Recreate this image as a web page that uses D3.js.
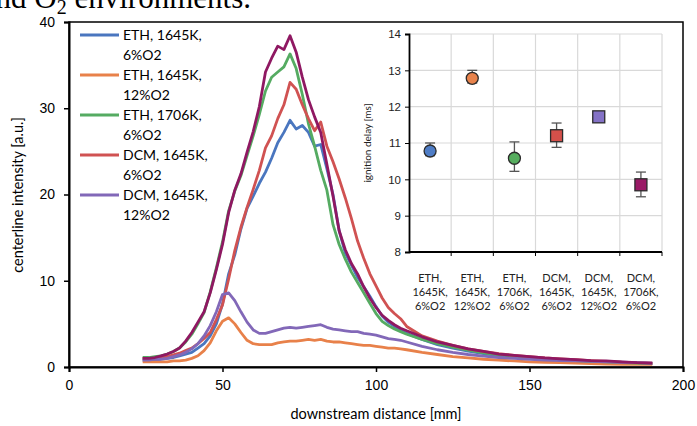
<!DOCTYPE html>
<html>
<head>
<meta charset="utf-8">
<script src="https://cdn.jsdelivr.net/npm/d3@7"></script>
<style>
  body { margin: 0; background: #fff; }
  svg { display: block; font-family: Lato, "Open Sans", sans-serif; }
</style>
</head>
<body>
<svg id="chart" width="697" height="426"></svg>
<script>
// downstream distance [mm]
const distance = [24, 26, 28, 30, 32, 34, 36, 38, 40, 42,
    44, 46, 48, 50, 52, 54, 56, 58, 60, 62,
    64, 66, 68, 70, 72, 74, 76, 78, 80, 82,
    84, 86, 88, 90, 92, 94, 96, 98, 100, 102,
    104, 106, 108, 110,
    115, 120, 125, 130, 135, 140, 145, 150, 155, 160, 165, 170, 175, 180, 185, 190];

const eth1645_6 = [0.8, 0.8, 0.8, 0.9, 1.0, 1.1, 1.3, 1.5, 1.7, 2.2,
    2.7, 3.6, 5.0, 7.3, 10.8, 13.0, 16.0, 18.4, 19.8, 21.3,
    22.6, 24.2, 26.0, 27.2, 28.6, 27.6, 28.0, 27.2, 25.6, 25.8,
    23.0, 20.0, 15.8, 13.2, 11.8, 10.4, 9.3, 8.2, 7.0, 5.9,
    5.2, 4.7, 4.3, 3.9,
    3.2, 2.6, 2.2, 1.85, 1.55, 1.3, 1.15, 1.0, 0.9, 0.8, 0.7, 0.6, 0.55, 0.5, 0.45, 0.4];

const eth1645_12 = [0.6, 0.6, 0.6, 0.6, 0.6, 0.7, 0.7, 0.8, 1.0, 1.3,
    1.9, 2.8, 4.2, 5.3, 5.7, 5.0, 4.0, 3.1, 2.7, 2.6,
    2.6, 2.6, 2.8, 2.9, 3.0, 3.0, 3.1, 3.2, 3.1, 3.2,
    3.0, 2.9, 2.9, 2.8, 2.7, 2.6, 2.5, 2.5, 2.4, 2.3,
    2.2, 2.2, 2.1, 2.0,
    1.7, 1.45, 1.2, 1.05, 0.9, 0.8, 0.7, 0.6, 0.55, 0.5, 0.45, 0.4, 0.35, 0.3, 0.3, 0.3];

const eth1706_6 = [1.1, 1.1, 1.2, 1.3, 1.5, 1.8, 2.2, 2.9, 3.8, 5.0,
    6.3, 8.7, 11.5, 14.5, 18.1, 20.4, 22.2, 24.5, 26.8, 29.3,
    32.0, 33.6, 34.2, 34.8, 36.3, 34.6, 31.6, 28.2, 25.6, 22.8,
    20.5, 16.5, 14.2, 12.5, 11.0, 9.8, 8.6, 7.4, 6.2, 5.3,
    4.8, 4.4, 4.1, 3.8,
    3.2, 2.7, 2.3, 1.95, 1.65, 1.4, 1.25, 1.1, 0.95, 0.85, 0.75, 0.65, 0.6, 0.5, 0.45, 0.4];

const dcm1645_6 = [1.0, 1.0, 1.0, 1.1, 1.2, 1.4, 1.6, 1.9, 2.2, 2.7,
    3.3, 4.0, 5.5, 7.2, 10.2, 13.5, 16.2, 18.5, 20.6, 22.8,
    25.4, 26.8, 28.8, 30.4, 33.0, 32.2, 30.4, 28.8, 27.4, 28.4,
    25.6, 23.8, 21.8, 19.6, 17.2, 14.6, 12.6, 10.8, 9.4, 8.0,
    6.9, 6.2, 5.6, 4.7,
    3.6, 3.0, 2.5, 2.1, 1.8, 1.55, 1.35, 1.2, 1.05, 0.95, 0.85, 0.75, 0.65, 0.55, 0.5, 0.45];

const dcm1645_12 = [0.8, 0.8, 0.9, 0.9, 1.0, 1.2, 1.4, 1.7, 2.1, 2.7,
    3.6, 4.8, 6.4, 8.4, 8.6, 7.7, 6.4, 5.2, 4.3, 3.9,
    3.9, 4.1, 4.3, 4.5, 4.6, 4.5, 4.6, 4.7, 4.8, 4.9,
    4.6, 4.4, 4.3, 4.2, 4.1, 4.1, 3.9, 3.8, 3.7, 3.5,
    3.3, 3.2, 3.1, 2.9,
    2.4, 2.0, 1.7, 1.45, 1.25, 1.1, 1.0, 0.9, 0.8, 0.75, 0.7, 0.65, 0.6, 0.55, 0.5, 0.45];

const dcm1706_6 = [1.0, 1.0, 1.1, 1.3, 1.5, 1.8, 2.2, 3.0, 4.0, 5.2,
    6.4, 8.6, 11.3, 14.2, 17.9, 20.5, 22.4, 24.9, 27.3, 30.2,
    34.2, 35.8, 37.2, 36.8, 38.4, 36.5, 33.6, 31.0, 29.0, 27.2,
    23.5, 19.8, 15.8, 13.6, 12.0, 10.8, 9.3, 8.0, 6.9, 6.0,
    5.4, 4.9, 4.5, 4.2,
    3.5, 2.9, 2.5, 2.1, 1.8, 1.5, 1.35, 1.2, 1.05, 0.95, 0.85, 0.75, 0.7, 0.6, 0.5, 0.45];

const seriesNames = ["ETH, 1645K, 6%O2", "ETH, 1645K, 12%O2", "ETH, 1706K, 6%O2",
    "DCM, 1645K, 6%O2", "DCM, 1645K, 12%O2", "DCM, 1706K, 6%O2"];
const seriesValues = [eth1645_6, eth1645_12, eth1706_6, dcm1645_6, dcm1645_12, dcm1706_6];
const lineColors = ["#4a76bf", "#e8814a", "#55ab62", "#d05252", "#8268b8", "#8f1862"];
const legendCount = 5;

const xTicks = [0, 50, 100, 150, 200];
const yTicks = [0, 10, 20, 30, 40];

// inset: ignition delay
const delayMean = [10.78, 12.78, 10.58, 11.2, 11.72, 9.85];
const delayLow = [10.65, 12.65, 10.22, 10.88, 11.65, 9.52];
const delayHigh = [11.0, 13.0, 11.03, 11.55, 11.78, 10.2];
const delayShape = ["circle", "circle", "circle", "square", "square", "square"];
const markerColors = ["#4f7dc6", "#e8834c", "#56ad5e", "#d4504a", "#8472c6", "#9a1a66"];
const delayTicks = [8, 9, 10, 11, 12, 13, 14];

const svg = d3.select("#chart");

// clipped title text from the page above
svg.append("text")
    .attr("x", 251)
    .attr("y", 8)
    .attr("text-anchor", "end")
    .style("font-family", "'Liberation Serif', 'DejaVu Serif', serif")
    .style("font-size", "31px")
    .call(t => {
        t.append("tspan").text("and O");
        t.append("tspan").attr("font-size", "20px").attr("dy", 6).text("2");
        t.append("tspan").attr("dy", -6).text(" environments.");
    });

const x = d3.scaleLinear().domain([0, 200]).range([69, 683]);
const y = d3.scaleLinear().domain([0, 40]).range([367, 22]);

svg.append("defs").append("clipPath").attr("id", "plotclip")
    .append("rect")
    .attr("x", x(0)).attr("y", y(40))
    .attr("width", x(200) - x(0)).attr("height", y(0) - y(40));

// plot frame
svg.append("rect")
    .attr("x", x(0)).attr("y", y(40))
    .attr("width", x(200) - x(0)).attr("height", y(0) - y(40))
    .attr("fill", "none")
    .attr("stroke", "#000")
    .attr("stroke-width", 1.5);

const line = d3.line()
    .x((d, i) => x(distance[i]))
    .y(d => y(d));

const lines = svg.append("g").attr("clip-path", "url(#plotclip)");
seriesValues.forEach((vals, k) => {
    lines.append("path")
        .attr("d", line(vals))
        .attr("fill", "none")
        .attr("stroke", lineColors[k])
        .attr("stroke-width", 2.8)
        .attr("stroke-linejoin", "round");
});

const xAxis = g => g
    .attr("transform", `translate(0,${y(0)})`)
    .call(d3.axisBottom(x).tickValues(xTicks).tickSize(5).tickPadding(8).tickFormat(d3.format("d")))
    .call(g => g.select(".domain").attr("stroke-width", 2))
    .call(g => g.selectAll(".tick line").attr("stroke-width", 1.5))
    .call(g => g.selectAll("text").style("font-size", "14px").attr("fill", "#000"));

const yAxis = g => g
    .attr("transform", `translate(${x(0)},0)`)
    .call(d3.axisLeft(y).tickValues(yTicks).tickSize(5).tickPadding(9))
    .call(g => g.select(".domain").attr("stroke-width", 2))
    .call(g => g.selectAll(".tick line").attr("stroke-width", 1.5))
    .call(g => g.selectAll("text").style("font-size", "14px").attr("fill", "#000"));

svg.append("g").call(xAxis);
svg.append("g").call(yAxis);

svg.append("text")
    .attr("x", 376).attr("y", 419)
    .attr("text-anchor", "middle")
    .style("font-size", "14.5px")
    .text("downstream distance [mm]");

svg.append("text")
    .attr("transform", "translate(23,195) rotate(-90)")
    .attr("text-anchor", "middle")
    .style("font-size", "14.5px")
    .text("centerline intensity [a.u.]");

// legend (only the first five entries fit)
const legend = svg.append("g");
seriesNames.slice(0, legendCount).forEach((name, k) => {
    const cy = 35 + k * 40;
    const parts = name.split(", ");
    legend.append("line")
        .attr("x1", 80).attr("x2", 119)
        .attr("y1", cy).attr("y2", cy)
        .attr("stroke", lineColors[k])
        .attr("stroke-width", 2.8);
    legend.append("text")
        .attr("x", 123).attr("y", cy + 5)
        .style("font-size", "14px")
        .text(parts[0] + ", " + parts[1] + ",");
    legend.append("text")
        .attr("x", 123).attr("y", cy + 25)
        .style("font-size", "14px")
        .text(parts[2]);
});

// inset chart
const xi = d3.scaleBand().domain(seriesNames).range([409, 662]);
const yi = d3.scaleLinear().domain([8, 14]).range([252, 34]);

const inset = svg.append("g");

inset.selectAll(".hgrid")
    .data(delayTicks.slice(1))
    .enter().append("line")
    .attr("x1", xi.range()[0]).attr("x2", xi.range()[1])
    .attr("y1", d => yi(d)).attr("y2", d => yi(d))
    .attr("stroke", "#d9d9d9")
    .attr("stroke-width", 1.2);

inset.selectAll(".vgrid")
    .data(seriesNames)
    .enter().append("line")
    .attr("x1", d => xi(d) + xi.bandwidth()).attr("x2", d => xi(d) + xi.bandwidth())
    .attr("y1", yi(8)).attr("y2", yi(14))
    .attr("stroke", "#d9d9d9")
    .attr("stroke-width", 1.2);

inset.append("g")
    .attr("transform", `translate(${xi.range()[0]},0)`)
    .call(d3.axisLeft(yi).tickValues(delayTicks).tickSize(4).tickPadding(4).tickFormat(d3.format("d")))
    .call(g => g.select(".domain").attr("stroke-width", 1.8))
    .call(g => g.selectAll("text").style("font-size", "11.5px").attr("fill", "#222"));

const ixAxis = inset.append("g").attr("transform", `translate(0,${yi(8)})`);
ixAxis.append("line")
    .attr("x1", xi.range()[0]).attr("x2", xi.range()[1])
    .attr("stroke", "#000").attr("stroke-width", 1.8);
ixAxis.selectAll(".itick")
    .data(seriesNames)
    .enter().append("line")
    .attr("x1", d => xi(d) + xi.bandwidth()).attr("x2", d => xi(d) + xi.bandwidth())
    .attr("y1", 0).attr("y2", 4)
    .attr("stroke", "#000");
seriesNames.forEach(name => {
    const parts = name.split(", ");
    const cx = xi(name) + xi.bandwidth() / 2;
    parts.forEach((p, j) => {
        ixAxis.append("text")
            .attr("x", cx).attr("y", 30 + j * 14)
            .attr("text-anchor", "middle")
            .style("font-size", "11px")
            .attr("fill", "#222")
            .text(j < 2 ? p + "," : p);
    });
});

inset.append("text")
    .attr("transform", `translate(371,${yi(11)}) rotate(-90)`)
    .attr("text-anchor", "middle")
    .style("font-size", "10px")
    .attr("fill", "#222")
    .text("ignition delay [ms]");

const points = inset.selectAll(".pt")
    .data(seriesNames)
    .enter().append("g")
    .attr("transform", d => `translate(${xi(d) + xi.bandwidth() / 2},0)`);

points.each(function (d, i) {
    const g = d3.select(this);
    if (delayHigh[i] - delayLow[i] > 0.2) {
        g.append("line")
            .attr("y1", yi(delayLow[i])).attr("y2", yi(delayHigh[i]))
            .attr("stroke", "#555").attr("stroke-width", 1.3);
        [delayLow[i], delayHigh[i]].forEach(v => {
            g.append("line")
                .attr("x1", -5).attr("x2", 5)
                .attr("y1", yi(v)).attr("y2", yi(v))
                .attr("stroke", "#555").attr("stroke-width", 1.3);
        });
    }
    if (delayShape[i] === "circle") {
        g.append("circle")
            .attr("cy", yi(delayMean[i])).attr("r", 6)
            .attr("fill", markerColors[i])
            .attr("stroke", "#2b2b2b").attr("stroke-width", 1.3);
    } else {
        g.append("rect")
            .attr("x", -6).attr("y", yi(delayMean[i]) - 6)
            .attr("width", 12).attr("height", 12)
            .attr("fill", markerColors[i])
            .attr("stroke", "#2b2b2b").attr("stroke-width", 1.3);
    }
});
</script>
</body>
</html>
